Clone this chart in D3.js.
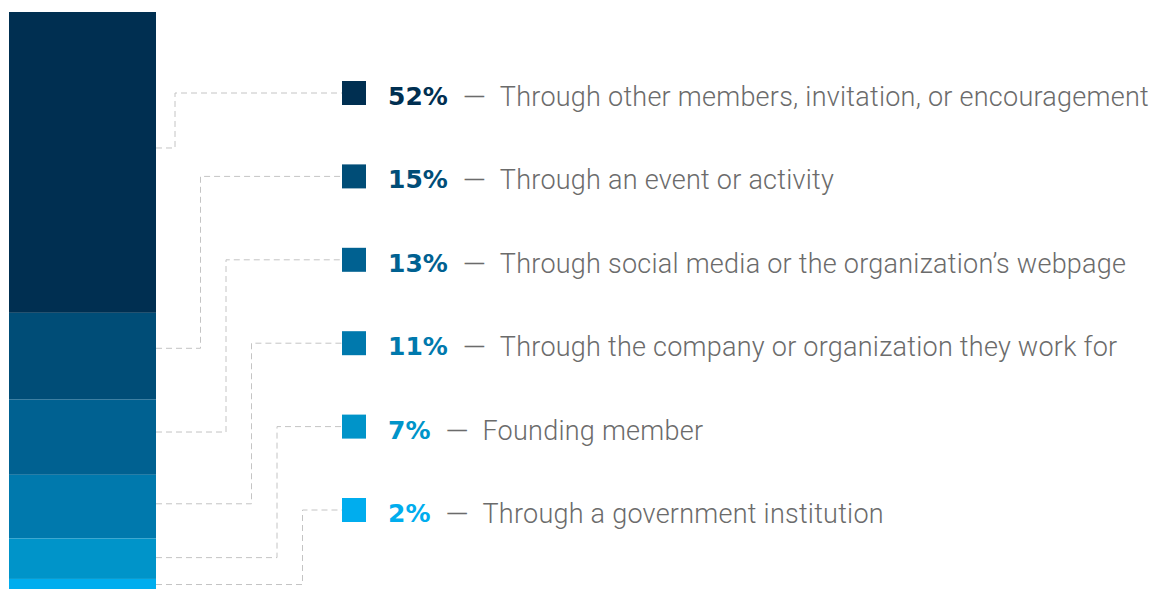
<!DOCTYPE html>
<html>
<head>
<meta charset="utf-8">
<script src="https://cdn.jsdelivr.net/npm/d3@7"></script>
<style>
  html, body { margin: 0; padding: 0; background: #fff; }
  svg { display: block; }
  .pct { font-family: "DejaVu Sans", sans-serif; font-weight: 700; font-size: 25px; }
  .desc { font-family: Roboto, "Open Sans", sans-serif; font-weight: 300; font-size: 27px; letter-spacing: 0.25px; fill: #6b6b6b; }
  .dash { font-family: Roboto, sans-serif; font-weight: 300; font-size: 30px; fill: #6b6b6b; }
</style>
</head>
<body>
<svg id="chart"></svg>
<script>
const categories = [
  'Through other members, invitation, or encouragement',
  'Through an event or activity',
  'Through social media or the organization\u2019s webpage',
  'Through the company or organization they work for',
  'Founding member',
  'Through a government institution'
]
const values = [52, 15, 13, 11, 7, 2]
const colors = ['#002f51', '#004d77', '#006191', '#0079ad', '#0094c9', '#00adee']

const width = 1161
const height = 589

const svg = d3.select('#chart').attr('width', width).attr('height', height)

// stack the values
let acc = 0
const segs = values.map((v, i) => {
  const s = { i, v, y0: acc, y1: acc + v }
  acc += v
  return s
})

const y = d3.scaleLinear().domain([0, 100]).range([12, 590.5])
// connectors leave the bar a bit above the segment middle
const yAnchor = d3.scaleLinear().domain([0, 100]).range([-7.5, 590.5])
const row = d3.scaleLinear().domain([0, 1]).range([93, 176.4])

const barX = 9, barW = 147
const sqX = 342, sqS = 24

svg.selectAll('rect.seg').data(segs).enter()
  .append('rect')
  .attr('class', 'seg')
  .attr('x', barX)
  .attr('width', barW)
  .attr('y', d => y(d.y0))
  .attr('height', d => y(d.y1) - y(d.y0))
  .attr('fill', d => colors[d.i])

// dashed connectors
svg.selectAll('path.link').data(segs).enter()
  .append('path')
  .attr('class', 'link')
  .attr('fill', 'none')
  .attr('stroke', '#c4c4c4')
  .attr('stroke-width', 1)
  .attr('stroke-dasharray', '6,4')
  .attr('d', d => {
    const ya = yAnchor((d.y0 + d.y1) / 2)
    const yr = row(d.i)
    const xv = 175 + d.i * 25.5
    return `M${barX + barW},${ya}H${xv}V${yr}H${sqX}`
  })

// legend rows
const rows = svg.selectAll('g.row').data(segs).enter()
  .append('g')
  .attr('class', 'row')
  .attr('transform', d => `translate(0,${row(d.i)})`)

rows.append('rect')
  .attr('x', sqX)
  .attr('y', -sqS / 2)
  .attr('width', sqS)
  .attr('height', sqS)
  .attr('fill', d => colors[d.i])

rows.each(function (d) {
  const g = d3.select(this)
  const pct = g.append('text')
    .attr('class', 'pct')
    .attr('x', 388)
    .attr('y', 12)
    .attr('fill', colors[d.i])
    .text(d.v + '%')
  const pw = pct.node().getComputedTextLength()
  g.append('text')
    .attr('class', 'dash')
    .attr('x', 388 + pw + 15)
    .attr('y', 14)
    .text('\u2014')
  g.append('text')
    .attr('class', 'desc')
    .attr('x', 388 + pw + 52)
    .attr('y', 13)
    .text(categories[d.i])
})
</script>
</body>
</html>
